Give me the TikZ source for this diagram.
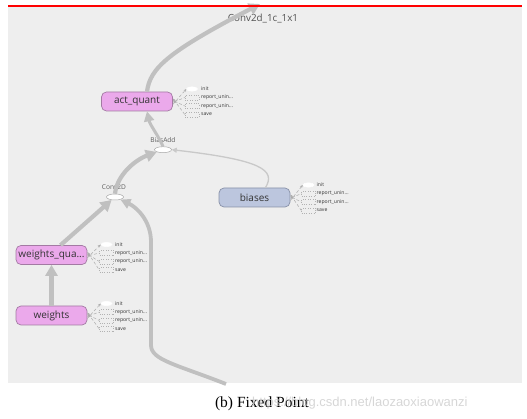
\documentclass[tikz,border=0pt]{standalone}
\usepackage{fontspec}
\setmainfont{Liberation Serif}
\newfontfamily\uifont{Open Sans}
\newfontfamily\wmfont{Liberation Sans}
\usetikzlibrary{arrows.meta,shapes.geometric}
\definecolor{bgc}{HTML}{EEEEEE}
\definecolor{edgec}{HTML}{C0C0C0}
\definecolor{pinkf}{HTML}{EBA9EB}
\definecolor{pinkd}{HTML}{A37AA3}
\definecolor{bluef}{HTML}{BCC6DE}
\definecolor{blued}{HTML}{8891A8}
\definecolor{txtc}{HTML}{333333}
\newcommand\auxouts[4]{% #1 name, #2 x, #3 y of init, #4 label x
  \node[initn] (#1i) at (#2,#3) {};
  \node[auxn] (#1ra) at (#2,#3+8.5) {};
  \node[auxn] (#1rb) at (#2,#3+17) {};
  \node[auxn] (#1s) at (#2,#3+25.5) {};
  \node[auxl] (#1il) at (#4,#3) {init};
  \node[auxl] (#1ral) at (#4,#3+8.5) {report\_unin...};
  \node[auxl] (#1rbl) at (#4,#3+17) {report\_unin...};
  \node[auxl] (#1sl) at (#4,#3+25.5) {save};
  \draw[auxe,-{Stealth[length=3pt,width=2.5pt]}] ([yshift=-3pt]#1.east) -- (#1i.west);
  \draw[auxe,{Stealth[length=3pt,width=2.5pt]}-] ([yshift=-1pt]#1.east) -- (#1ra.west);
  \draw[auxe,{Stealth[length=3pt,width=2.5pt]}-] ([yshift=1pt]#1.east) -- (#1rb.west);
  \draw[auxe,{Stealth[length=3pt,width=2.5pt]}-] ([yshift=3pt]#1.east) -- (#1s.west);
}
\begin{document}
\begin{tikzpicture}[x=1pt,y=-1pt,
  opA/.style={draw=pinkd, fill=pinkf, rounded corners=5pt, line width=0.7pt,
    minimum width=71pt, minimum height=19pt, inner sep=0pt, font=\uifont\fontsize{10}{11}\selectfont, text=txtc},
  opB/.style={opA, draw=blued, fill=bluef},
  opE/.style={ellipse, draw=gray!70, fill=white, line width=0.5pt, minimum width=17pt, minimum height=6pt, inner sep=0pt},
  opl/.style={font=\uifont\fontsize{6.6}{7}\selectfont, text=txtc!80},
  initn/.style={ellipse, draw=white, fill=white, minimum width=11pt, minimum height=4.5pt, inner sep=0pt},
  auxn/.style={draw=gray!60, dotted, line width=0.4pt, minimum width=14pt, minimum height=5pt, inner sep=0pt},
  auxl/.style={anchor=west, inner sep=0pt, font=\uifont\fontsize{5.1}{6}\selectfont, text=txtc},
  auxe/.style={draw=gray!65, densely dashed, line width=0.5pt},
  bige/.style={draw=edgec, line width=4.2pt, -{Triangle[width=12pt,length=11pt]}},
  mide/.style={draw=edgec, line width=3pt, -{Triangle[width=10pt,length=10pt]}},
  thine/.style={draw=edgec!85, line width=1.3pt, -{Triangle[width=5pt,length=5pt]}}
]
\useasboundingbox (0,0) rectangle (527,419);
\fill[bgc] (8,7) rectangle (522,383);

% nodes
\node[opA] (aq) at (137,101.5) {act\_quant};
\node[opB] (bi) at (254.5,197.5) {biases};
\node[opA] (wq) at (51.5,255) {weights\_qua...};
\node[opA] (w) at (51.5,315.5) {weights};
\node[opE] (ba) at (163,149.7) {};
\node[opE] (cv) at (115,197) {};
\node[opl] (bal) at (163,140.5) {BiasAdd};
\node[opl] (cvl) at (114,187.5) {Conv2D};
\node[font=\uifont\fontsize{9.8}{11}\selectfont, text=txtc!85] (outl) at (263,18.5) {Conv2d\_1c\_1x1};

\coordinate (topend) at (260,4);
\coordinate (inend) at (226,384);

% main edges
\draw[bige] (w.north) -- (wq.south);
\draw[bige] ([xshift=9pt]wq.north) -- (cv);
\draw[mide, line width=3.8pt] (inend) .. controls (175,364) and (151,360) .. (151,345) -- (151,242)
   .. controls (151,220) and (136,207) .. (cv);
\draw[bige] (cv.north) .. controls (117,175) and (135,160) .. (ba);
\draw[mide] (ba.north) .. controls (158,135) and (150,125) .. ([xshift=10pt]aq.south);
\draw[thine] ([xshift=11pt]bi.north) .. controls (276,170) and (262,160) .. (ba.east);
\draw[bige] ([xshift=10pt]aq.north) .. controls (150,68) and (168,52) .. (topend);

\draw[red, line width=2pt] (8,6) -- (522,6);

% auxiliary outputs
\auxouts{aq}{192}{89}{201}
\auxouts{bi}{308.5}{185}{316.5}
\auxouts{wq}{106.5}{244.5}{115}
\auxouts{w}{106.5}{303.5}{115}

% caption and watermark
\node[font=\fontsize{15.5}{17}\selectfont] (cap) at (262,404) {(b) Fixed Point};
\node[anchor=west, font=\wmfont\fontsize{13}{15}\selectfont, text=gray!40, opacity=0.8, inner sep=0pt] (wm) at (252,403) {https://blog.csdn.net/laozaoxiaowanzi};
\end{tikzpicture}
\end{document}
